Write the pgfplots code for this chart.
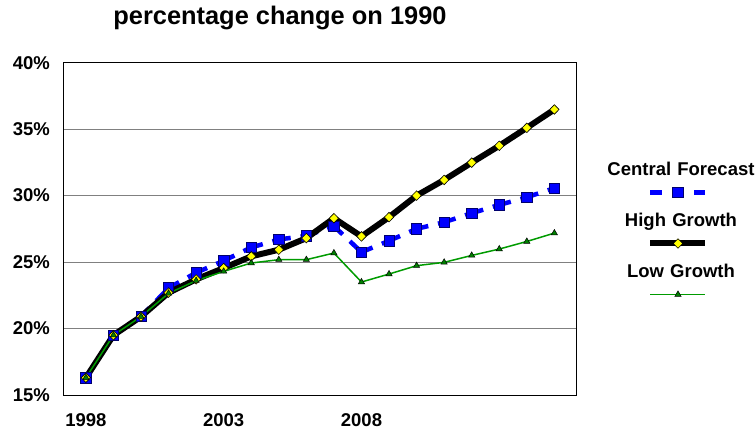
\documentclass[border=0pt]{standalone}
\usepackage{fontspec}
\setmainfont{Liberation Sans}
\usepackage{pgfplots}
\pgfplotsset{compat=1.18}
\definecolor{cfblue}{RGB}{0,0,255}
\definecolor{cfedge}{RGB}{0,0,110}
\definecolor{hgyellow}{RGB}{255,255,0}
\definecolor{lgline}{RGB}{0,155,0}
\definecolor{lgfill}{RGB}{0,128,0}
\definecolor{gridgray}{RGB}{128,128,128}
\pgfplotsset{
  cfline/.style={cfblue, line width=4.5bp, dash pattern=on 12bp off 10bp, mark=none, forget plot},
  cfmark/.style={mark=square*, mark size=5.2bp,
    mark options={solid, fill=cfblue, draw=cfedge, line width=0.6bp}},
}
\begin{document}
\begin{tikzpicture}
\begin{axis}[
  name=ax,
  scale only axis,
  width=513.4bp, height=332.3bp,
  xmin=1997.18, xmax=2015.81,
  ymin=15, ymax=40,
  clip=false,
  axis line style={black, line width=0.9bp},
  ymajorgrids,
  grid style={gridgray, line width=0.9bp},
  major tick length=0pt,
  xtick={1998,2003,2008},
  xticklabels={1998,2003,2008},
  ytick={15,20,25,30,35,40},
  yticklabels={15\%,20\%,25\%,30\%,35\%,40\%},
  ticklabel style={font=\bfseries\fontsize{18.5bp}{22bp}\selectfont, inner sep=0pt},
  yticklabel style={anchor=east, xshift=-13.3bp},
  xticklabel style={anchor=north, yshift=-18bp},
  title={percentage change on 1990},
  title style={at={(axis description cs:0.422,1.0963)}, anchor=base,
    font=\bfseries\fontsize{25.4bp}{30bp}\selectfont, inner sep=0pt},
  legend image code/.code={
    \path (0,0);
    \draw[overlay, mark repeat=2, mark phase=2, #1]
      plot coordinates {(52.5bp,-22.3bp) (80bp,-22.3bp) (107.5bp,-22.3bp)};
  },
  legend style={
    draw=none, fill=none,
    at={(axis description cs:1.1973,0.7042)}, anchor=north,
    inner sep=0pt, column sep=0pt, row sep=33bp,
    cells={anchor=center},
    nodes={inner sep=0pt, text width=160bp, align=center,
      text height=14bp, text depth=4bp,
      font=\bfseries\fontsize{18.5bp}{22bp}\selectfont},
  },
]
% Central Forecast: legend image
\addlegendimage{cfblue, line width=4.5bp, dash pattern=on 12bp off 10bp, cfmark}
\addlegendentry{Central Forecast}
% Central Forecast: dashed segments (dash restarts at each point)
\addplot[cfline] coordinates {(1998,16.3) (1999,19.5)};
\addplot[cfline] coordinates {(1999,19.5) (2000,20.9)};
\addplot[cfline] coordinates {(2000,20.9) (2001,23.05)};
\addplot[cfline] coordinates {(2001,23.05) (2002,24.2)};
\addplot[cfline] coordinates {(2002,24.2) (2003,25.1)};
\addplot[cfline] coordinates {(2003,25.1) (2004,26.1)};
\addplot[cfline] coordinates {(2004,26.1) (2005,26.7)};
\addplot[cfline] coordinates {(2005,26.7) (2006,26.98)};
\addplot[cfline] coordinates {(2006,26.98) (2007,27.7)};
\addplot[cfline] coordinates {(2007,27.7) (2008,25.75)};
\addplot[cfline] coordinates {(2008,25.75) (2009,26.6)};
\addplot[cfline] coordinates {(2009,26.6) (2010,27.5)};
\addplot[cfline] coordinates {(2010,27.5) (2011,28.0)};
\addplot[cfline] coordinates {(2011,28.0) (2012,28.68)};
\addplot[cfline] coordinates {(2012,28.68) (2013,29.3)};
\addplot[cfline] coordinates {(2013,29.3) (2014,29.88)};
\addplot[cfline] coordinates {(2014,29.88) (2015,30.56)};
% Central Forecast: markers
\addplot[only marks, cfmark, forget plot]
  coordinates {
  (1998,16.3) (1999,19.5) (2000,20.9) (2001,23.05) (2002,24.2) (2003,25.1)
  (2004,26.1) (2005,26.7) (2006,26.98) (2007,27.7) (2008,25.75) (2009,26.6)
  (2010,27.5) (2011,28.0) (2012,28.68) (2013,29.3) (2014,29.88) (2015,30.56)
  };
\addplot[black, line width=6bp,
  mark=diamond*, mark size=4.8bp,
  mark options={solid, fill=hgyellow, draw=black, line width=0.6bp, xscale=1.3}]
  coordinates {
  (1998,16.3) (1999,19.5) (2000,20.9) (2001,22.7) (2002,23.7) (2003,24.55)
  (2004,25.43) (2005,25.93) (2006,26.8) (2007,28.3) (2008,26.93) (2009,28.38)
  (2010,30.0) (2011,31.18) (2012,32.48) (2013,33.75) (2014,35.1) (2015,36.48)
  };
\addlegendentry{High Growth}
\addplot[lgline, line width=1.5bp,
  mark=triangle*, mark size=3.6bp,
  mark options={solid, fill=lgfill, draw=black, line width=0.5bp}]
  coordinates {
  (1998,16.3) (1999,19.5) (2000,20.9) (2001,22.65) (2002,23.6) (2003,24.3)
  (2004,24.93) (2005,25.18) (2006,25.18) (2007,25.68) (2008,23.5) (2009,24.1)
  (2010,24.73) (2011,24.98) (2012,25.5) (2013,25.98) (2014,26.55) (2015,27.18)
  };
\addlegendentry{Low Growth}
\end{axis}
\pgfresetboundingbox
\path ([shift={(-63.3bp,-36bp)}]ax.south west) rectangle ([shift={(178.3bp,62.7bp)}]ax.north east);
\end{tikzpicture}
\end{document}
